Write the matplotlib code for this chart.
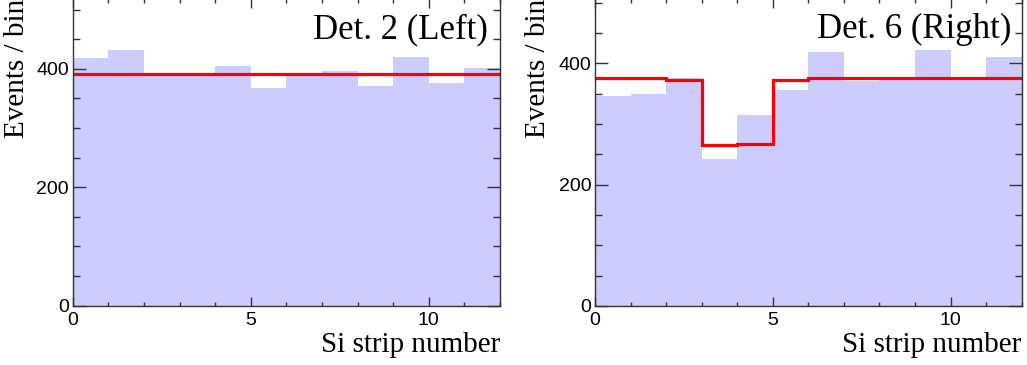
import matplotlib
matplotlib.use("Agg")
import matplotlib.pyplot as plt
import numpy as np
from matplotlib.ticker import MultipleLocator, FixedLocator

# ---- data ----
strip_edges = list(range(0, 13))
left_counts = [419, 432, 388, 390, 405, 367, 392, 397, 371, 420, 376, 401]
left_fit = [391.5] * 12
right_counts = [346, 349, 376, 243, 315, 356, 418, 371, 375, 422, 375, 410]
right_fit = [375, 375, 372.5, 265, 267.5, 373, 375, 375, 375, 375, 375, 375]
panel_labels = ["Det. 2 (Left)", "Det. 6 (Right)"]
xlabel = "Si strip number"
ylabel = "Events / bin"
x_major = [0, 5, 10]
y_major = [0, 200, 400]

W, H = 1027, 365
fig = plt.figure(figsize=(W / 100, H / 100), dpi=100)

serif = ["Liberation Serif", "DejaVu Serif"]
sans = ["Liberation Sans", "DejaVu Sans"]

panels = [
    dict(counts=left_counts, fit=left_fit, label=panel_labels[0],
         px=(72.7, 500.0), pbottom=305.7, ptop=-1.0, ymax=518,
         ylab_x=17.0, text_right=488.0),
    dict(counts=right_counts, fit=right_fit, label=panel_labels[1],
         px=(595.0, 1021.7), pbottom=306.0, ptop=-1.0, ymax=506,
         ylab_x=538.0, text_right=1011.5),
]

edge_col = "#333333"
for p in panels:
    l = p["px"][0] / W
    w = (p["px"][1] - p["px"][0]) / W
    b = (H - p["pbottom"]) / H
    h = (p["pbottom"] - p["ptop"]) / H
    ax = fig.add_axes([l, b, w, h])
    ax.stairs(p["counts"], strip_edges, fill=True, color="#ccccff", lw=0)
    ax.stairs(p["fit"], strip_edges, baseline=None, color="#ff0000", lw=2.3)
    ax.set_xlim(0, 12)
    ax.set_ylim(0, p["ymax"])
    ax.xaxis.set_major_locator(FixedLocator(x_major))
    ax.xaxis.set_minor_locator(MultipleLocator(1))
    ax.yaxis.set_major_locator(FixedLocator(y_major))
    ax.yaxis.set_minor_locator(MultipleLocator(50))
    for s in ax.spines.values():
        s.set_color(edge_col)
        s.set_linewidth(1.0)
    ax.tick_params(axis="both", which="both", direction="in",
                   top=True, right=True, color=edge_col, width=1.0)
    ax.tick_params(axis="x", which="major", length=6.5, pad=4.5)
    ax.tick_params(axis="x", which="minor", length=3.0)
    ax.tick_params(axis="y", which="major", length=9.5, pad=2.6)
    ax.tick_params(axis="y", which="minor", length=5.0)
    for t in ax.get_xticklabels() + ax.get_yticklabels():
        t.set_fontfamily(sans)
        t.set_fontsize(14)
    ax.text(p["text_right"] / W, 38 / H, "", transform=fig.transFigure)
    fig.text(p["text_right"] / W, 1 - 38 / H, p["label"], ha="right",
             va="baseline", fontsize=25, family=serif)
    fig.text(p["px"][1] / W, 13 / H, xlabel, ha="right", va="baseline",
             fontsize=21, family=serif)
    fig.text(p["ylab_x"] / W, (H - p["ptop"]) / H, ylabel, rotation=90,
             ha="center", va="top", fontsize=21, family=serif)

fig.savefig("out.png", dpi=100)
